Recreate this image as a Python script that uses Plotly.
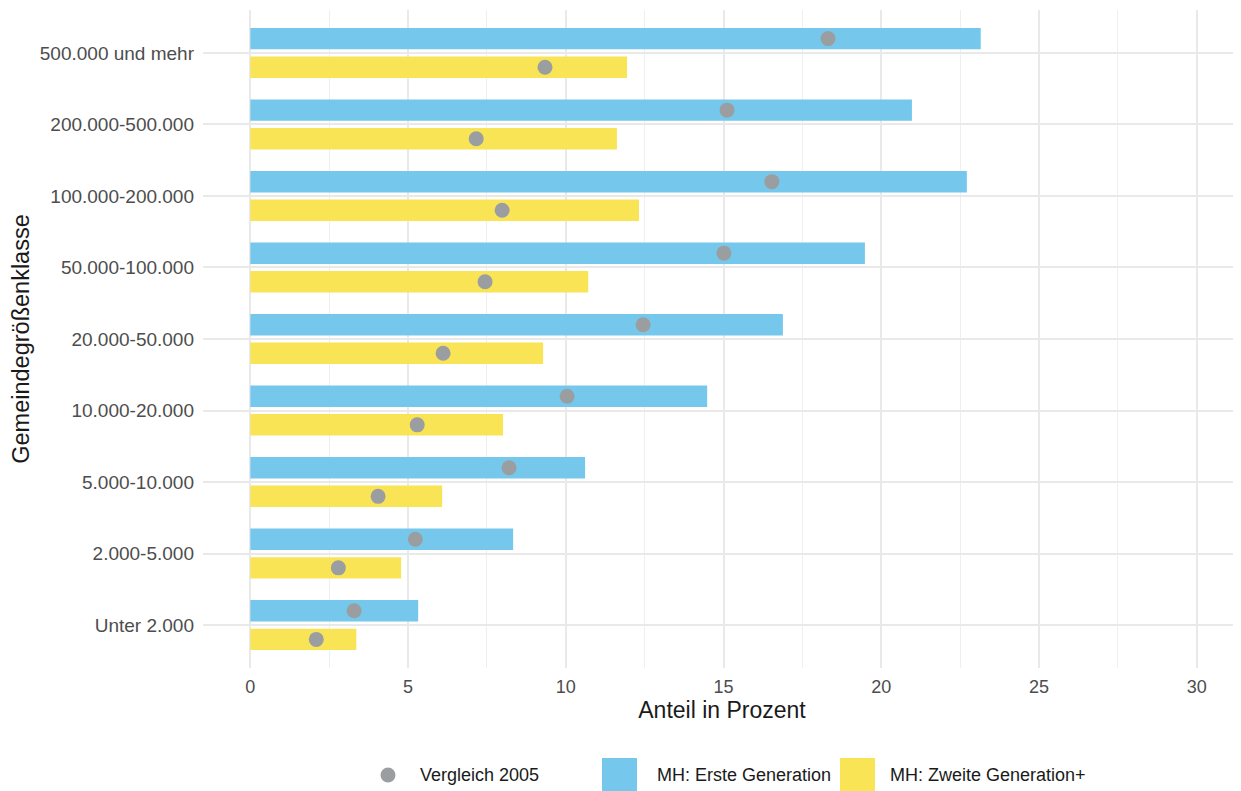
import plotly.graph_objects as go

categories = ["Unter 2.000", "2.000-5.000", "5.000-10.000", "10.000-20.000", "20.000-50.000",
              "50.000-100.000", "100.000-200.000", "200.000-500.000", "500.000 und mehr"]
erste_gen = [5.32, 8.33, 10.61, 14.48, 16.88, 19.48, 22.71, 20.97, 23.15]
zweite_gen = [3.36, 4.78, 6.08, 8.01, 9.28, 10.71, 12.32, 11.62, 11.94]
erste_2005 = [3.29, 5.23, 8.20, 10.04, 12.45, 15.01, 16.53, 15.11, 18.31]
zweite_2005 = [2.09, 2.79, 4.05, 5.29, 6.11, 7.44, 7.98, 7.16, 9.34]
x_ticks = [0, 5, 10, 15, 20, 25, 30]
legend_labels = ["Vergleich 2005", "MH: Erste Generation", "MH: Zweite Generation+"]

idx = list(range(1, len(categories) + 1))
y_top = [i + 0.2 for i in idx]
y_bot = [i - 0.2 for i in idx]

BLUE = "#76C7EC"
YELLOW = "#F9E456"
GRAY = "#9B9EA1"
FONT = "Liberation Sans, Arial, sans-serif"

# figure geometry (page has 8px body offset)
OFF = 8
W, H = 1241 - OFF, 791 - OFF
ML, MR, MT, MB = 195, 0, 2, 123
PW, PH = W - ML - MR, H - MT - MB


def px(x):  # page x -> paper x
    return (x - OFF - ML) / PW


def py(y):  # page y -> paper y
    return (H - MB - (y - OFF)) / PH


fig = go.Figure()
fig.add_trace(go.Bar(x=erste_gen, y=y_top, orientation="h", width=0.3,
                     marker=dict(color=BLUE, line=dict(width=0)),
                     name=legend_labels[1]))
fig.add_trace(go.Bar(x=zweite_gen, y=y_bot, orientation="h", width=0.3,
                     marker=dict(color=YELLOW, line=dict(width=0)),
                     name=legend_labels[2]))
fig.add_trace(go.Scatter(x=erste_2005 + zweite_2005, y=y_top + y_bot, mode="markers",
                         marker=dict(color=GRAY, size=15),
                         name=legend_labels[0]))

# custom legend (keys sized like the reference)
shapes = [
    dict(type="circle", xref="paper", yref="paper", x0=px(380.5), x1=px(395.5),
         y0=py(767.5), y1=py(782.5), fillcolor=GRAY, line=dict(width=0)),
    dict(type="rect", xref="paper", yref="paper", x0=px(602), x1=px(637),
         y0=py(758), y1=py(793), fillcolor=BLUE, line=dict(width=0)),
    dict(type="rect", xref="paper", yref="paper", x0=px(840), x1=px(875),
         y0=py(758), y1=py(793), fillcolor=YELLOW, line=dict(width=0)),
]
annotations = []
for lx, txt in zip([418, 655, 888], legend_labels):
    annotations.append(dict(xref="paper", yref="paper", x=px(lx), y=py(775), text=txt,
                            showarrow=False, xanchor="left", yanchor="middle",
                            font=dict(family=FONT, size=18, color="#1A1A1A")))

fig.update_layout(
    width=W, height=H,
    margin=dict(l=ML, r=MR, t=MT, b=MB, autoexpand=False),
    plot_bgcolor="white", paper_bgcolor="white",
    barmode="overlay",
    font=dict(family=FONT, size=18, color="#4D4D4D"),
    showlegend=False,
    shapes=shapes,
    annotations=annotations,
    xaxis=dict(range=[-1.5, 31.4], tickvals=x_ticks, ticktext=[str(t) for t in x_ticks],
               showgrid=True, gridcolor="#E9E9E9", gridwidth=1.7,
               minor=dict(tickvals=[2.5, 7.5, 12.5, 17.5, 22.5, 27.5], showgrid=True,
                          gridcolor="#EFEFEF", gridwidth=1.1),
               zeroline=False, showline=False, ticks="",
               tickfont=dict(size=18, color="#4D4D4D"), ticklabelstandoff=6,
               title=dict(text="Anteil in Prozent", font=dict(size=23, color="#1A1A1A"), standoff=4)),
    yaxis=dict(range=[0.4, 9.6], tickvals=idx, ticktext=categories,
               showgrid=True, gridcolor="#E9E9E9", gridwidth=1.7,
               zeroline=False, showline=False, ticks="",
               tickfont=dict(size=19, color="#4D4D4D"), ticklabelstandoff=8,
               title=dict(text="Gemeindegrößenklasse", font=dict(size=23.5, color="#1A1A1A"), standoff=4)),
)

fig.write_html("out.html")
